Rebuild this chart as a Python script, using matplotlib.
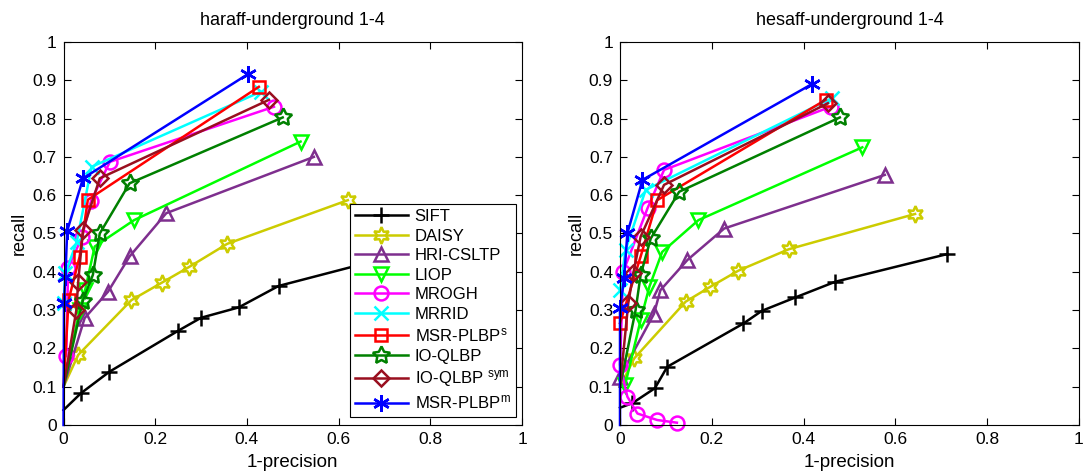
import matplotlib
matplotlib.use("Agg")
import matplotlib.pyplot as plt
from matplotlib.lines import Line2D
from matplotlib.ticker import FixedLocator, FuncFormatter

plt.rcParams['font.family'] = ['Liberation Sans', 'DejaVu Sans']
plt.rcParams['mathtext.fontset'] = 'custom'
plt.rcParams['mathtext.rm'] = 'Liberation Sans'
plt.rcParams['mathtext.it'] = 'Liberation Sans:italic'

# ---- descriptors ----
methods = ["SIFT", "DAISY", "HRI-CSLTP", "LIOP", "MROGH", "MRRID",
           "MSR-PLBP$^{\\mathrm{s}}$", "IO-QLBP", "IO-QLBP $^{\\mathrm{sym}}$",
           "MSR-PLBP$^{\\mathrm{m}}$"]

# ---- haraff-underground 1-4 : (1-precision, recall) ----
har_sift_x = [0.0, 0.038, 0.100, 0.250, 0.300, 0.382, 0.469, 0.700]
har_sift_y = [0.039, 0.083, 0.139, 0.246, 0.280, 0.307, 0.363, 0.435]
har_daisy_x = [0.0, 0.032, 0.148, 0.215, 0.273, 0.357, 0.620]
har_daisy_y = [0.100, 0.183, 0.326, 0.372, 0.412, 0.473, 0.587]
har_hri_x = [0.0, 0.046, 0.097, 0.144, 0.224, 0.546]
har_hri_y = [0.100, 0.279, 0.348, 0.440, 0.553, 0.700]
har_liop_x = [0.0, 0.035, 0.047, 0.068, 0.154, 0.517]
har_liop_y = [0.100, 0.300, 0.352, 0.466, 0.535, 0.740]
har_mrogh_x = [0.006, 0.010, 0.040, 0.060, 0.101, 0.459]
har_mrogh_y = [0.180, 0.410, 0.490, 0.585, 0.687, 0.831]
har_mrrid_x = [0.0, 0.004, 0.029, 0.061, 0.430]
har_mrrid_y = [0.318, 0.396, 0.479, 0.674, 0.870]
har_plbps_x = [0.0, 0.011, 0.035, 0.053, 0.426]
har_plbps_y = [0.100, 0.326, 0.439, 0.588, 0.883]
har_ioq_x = [0.0, 0.042, 0.064, 0.079, 0.144, 0.478]
har_ioq_y = [0.100, 0.324, 0.392, 0.500, 0.631, 0.803]
har_ioqs_x = [0.0, 0.028, 0.032, 0.0425, 0.079, 0.448]
har_ioqs_y = [0.100, 0.300, 0.374, 0.509, 0.644, 0.849]
har_plbpm_x = [0.0, 0.001, 0.004, 0.008, 0.0425, 0.402]
har_plbpm_y = [0.0, 0.318, 0.387, 0.507, 0.644, 0.916]

# ---- hesaff-underground 1-4 : (1-precision, recall) ----
hes_sift_x = [0.0, 0.027, 0.076, 0.103, 0.269, 0.309, 0.382, 0.469, 0.712]
hes_sift_y = [0.045, 0.057, 0.096, 0.152, 0.265, 0.298, 0.333, 0.374, 0.446]
hes_daisy_x = [0.0, 0.031, 0.143, 0.197, 0.258, 0.368, 0.643]
hes_daisy_y = [0.100, 0.174, 0.322, 0.361, 0.403, 0.459, 0.551]
hes_hri_x = [0.0, 0.074, 0.088, 0.147, 0.227, 0.577]
hes_hri_y = [0.126, 0.290, 0.352, 0.431, 0.513, 0.653]
hes_liop_x = [0.011, 0.045, 0.064, 0.092, 0.171, 0.528]
hes_liop_y = [0.104, 0.274, 0.361, 0.452, 0.535, 0.725]
hes_mrogh_x = [0.124, 0.081, 0.038, 0.016, 0.0, 0.007, 0.060, 0.096, 0.459]
hes_mrogh_y = [0.006, 0.013, 0.030, 0.074, 0.157, 0.400, 0.566, 0.666, 0.831]
hes_mrrid_x = [0.0, 0.012, 0.056, 0.461]
hes_mrrid_y = [0.352, 0.457, 0.614, 0.853]
hes_plbps_x = [0.0, 0.045, 0.081, 0.448]
hes_plbps_y = [0.266, 0.440, 0.587, 0.849]
hes_ioq_x = [0.0, 0.034, 0.045, 0.067, 0.129, 0.479]
hes_ioq_y = [0.100, 0.300, 0.392, 0.487, 0.609, 0.803]
hes_ioqs_x = [0.0, 0.018, 0.029, 0.045, 0.096, 0.453]
hes_ioqs_y = [0.100, 0.318, 0.396, 0.492, 0.627, 0.840]
hes_plbpm_x = [0.0, 0.0, 0.009, 0.016, 0.049, 0.418]
hes_plbpm_y = [0.0, 0.305, 0.383, 0.500, 0.640, 0.890]

# each panel: title, curves in method order, indices of curves whose first
# vertex is an unmarked origin point
panels = [
    ("haraff-underground 1-4",
     [(har_sift_x, har_sift_y), (har_daisy_x, har_daisy_y), (har_hri_x, har_hri_y),
      (har_liop_x, har_liop_y), (har_mrogh_x, har_mrogh_y), (har_mrrid_x, har_mrrid_y),
      (har_plbps_x, har_plbps_y), (har_ioq_x, har_ioq_y), (har_ioqs_x, har_ioqs_y),
      (har_plbpm_x, har_plbpm_y)],
     {0, 1, 2, 3, 6, 7, 8, 9}),
    ("hesaff-underground 1-4",
     [(hes_sift_x, hes_sift_y), (hes_daisy_x, hes_daisy_y), (hes_hri_x, hes_hri_y),
      (hes_liop_x, hes_liop_y), (hes_mrogh_x, hes_mrogh_y), (hes_mrrid_x, hes_mrrid_y),
      (hes_plbps_x, hes_plbps_y), (hes_ioq_x, hes_ioq_y), (hes_ioqs_x, hes_ioqs_y),
      (hes_plbpm_x, hes_plbpm_y)],
     {0, 1, 7, 8, 9}),
]

colors = ["#000000", "#cccc00", "#7e2f8e", "#00ff00", "#ff00ff", "#00ffff",
          "#ff0000", "#008000", "#990f1f", "#0000ff"]
markers = ["+", (6, 1, 0), "^", "v", "o", "x", "s", (5, 1, 0), "D", (6, 2, 0)]
msizes = [12, 12, 10, 10, 10, 10, 9, 13, 8, 12]

LW = 1.8
FS = 12.5

fig = plt.figure(figsize=(10.86, 4.73), dpi=100)
axes = [fig.add_axes([0.0585, 0.1015, 0.4222, 0.8097]),
        fig.add_axes([0.5709, 0.1015, 0.4226, 0.8097])]

for ax, (title, series, unmarked_start) in zip(axes, panels):
    for i, (x, y) in enumerate(series):
        start = 1 if i in unmarked_start else 0
        ax.plot(x, y, color=colors[i], lw=LW, marker=markers[i], ms=msizes[i],
                mfc='none', mew=LW, markevery=slice(start, None), clip_on=False)
    ax.set_xlim(0, 1)
    ax.set_ylim(0, 1)
    ax.xaxis.set_major_locator(FixedLocator([0, 0.2, 0.4, 0.6, 0.8, 1.0]))
    ax.yaxis.set_major_locator(FixedLocator([i / 10 for i in range(11)]))
    fmt = FuncFormatter(lambda v, p: "%g" % round(v, 2))
    ax.xaxis.set_major_formatter(fmt)
    ax.yaxis.set_major_formatter(fmt)
    ax.tick_params(direction='in', length=5, width=0.8, top=True, right=True,
                   labelsize=FS, pad=5)
    for s in ax.spines.values():
        s.set_linewidth(0.8)
    ax.set_title(title, fontsize=13, pad=12)
    ax.set_xlabel("1-precision", fontsize=13.5, labelpad=5)
    ax.set_ylabel("recall", fontsize=13, labelpad=3)

handles = [Line2D([0], [0], color=colors[i], lw=LW, marker=markers[i], ms=msizes[i],
                  mfc='none', mew=LW) for i in range(len(methods))]
leg = axes[0].legend(handles, methods, loc='lower right', bbox_to_anchor=(0.986, 0.022),
                     borderaxespad=0, fontsize=12, frameon=True, fancybox=False,
                     framealpha=1, edgecolor='black', handlelength=3.2,
                     handletextpad=0.4, labelspacing=0.27, borderpad=0.3, numpoints=1)
leg.get_frame().set_linewidth(0.8)

fig.savefig("out.png", dpi=100)
